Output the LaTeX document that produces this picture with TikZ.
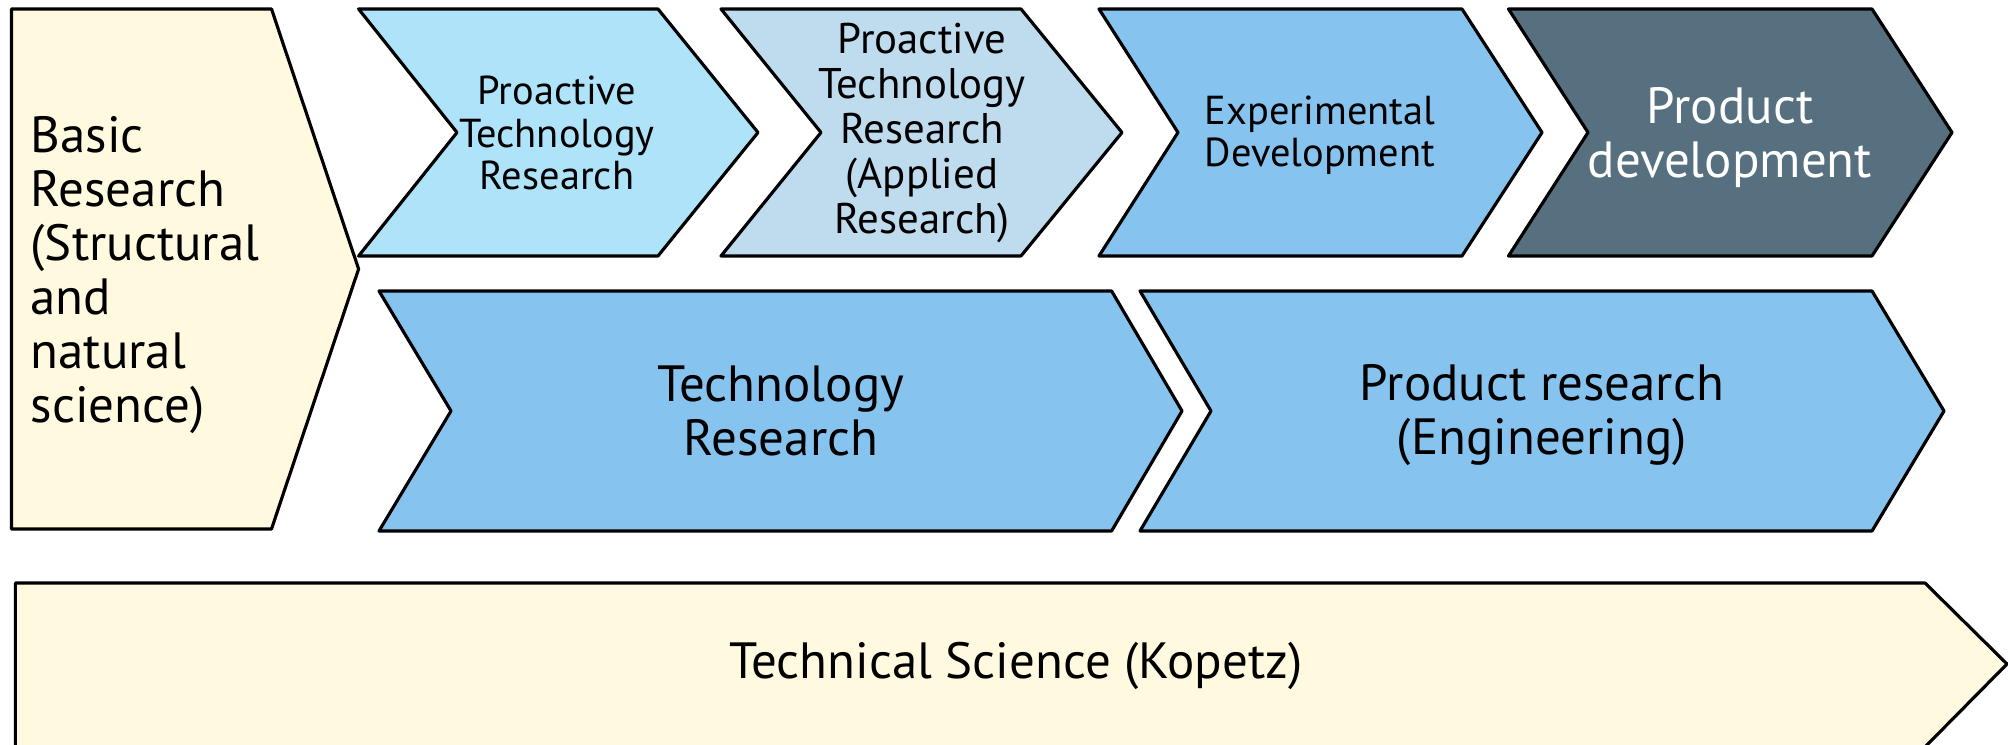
\documentclass[tikz,border=0pt]{standalone}
\usepackage{fontspec}
\setmainfont{PT Sans}
\usetikzlibrary{positioning}
\definecolor{basicfill}{HTML}{FFFADF}
\definecolor{proafill}{HTML}{AEE3FA}
\definecolor{appfill}{HTML}{BFDBEE}
\definecolor{midfill}{HTML}{86C3EF}
\definecolor{darkfill}{HTML}{56707F}
\tikzset{
    stage/.style={
        draw=black, line width=0.9pt, line join=round
    },
    smalltext/.style={
        align=center, inner sep=0pt,
        font=\fontsize{11.5}{12}\selectfont
    },
    midtext/.style={
        align=center, inner sep=0pt,
        font=\fontsize{12.2}{12.8}\selectfont
    },
    bigtext/.style={
        align=center, inner sep=0pt,
        font=\fontsize{14.5}{15.4}\selectfont
    }
}

\begin{document}
\begin{tikzpicture}
\useasboundingbox (0,0) rectangle (20.08,7.45);

% Basic research block
\draw[stage, fill=basicfill] (0.115,7.36) -- (2.715,7.36) -- (3.586,4.76) -- (2.715,2.16) -- (0.115,2.16) -- cycle;
\node[bigtext, align=left, anchor=west] (basic) at (0.30,4.70) {Basic\\Research\\(Structural\\and\\natural\\science)};

% Top row: four stages
\draw[stage, fill=proafill] (3.586,7.36) -- (6.58,7.36) -- (7.58,6.125) -- (6.58,4.89) -- (3.586,4.89) -- (4.57,6.125) -- cycle;
\draw[stage, fill=appfill] (7.21,7.36) -- (10.21,7.36) -- (11.22,6.125) -- (10.21,4.89) -- (7.21,4.89) -- (8.21,6.125) -- cycle;
\draw[stage, fill=midfill] (10.99,7.36) -- (14.62,7.36) -- (15.42,6.125) -- (14.62,4.89) -- (10.99,4.89) -- (11.78,6.125) -- cycle;
\draw[stage, fill=darkfill] (15.085,7.36) -- (18.72,7.36) -- (19.52,6.125) -- (18.72,4.89) -- (15.085,4.89) -- (15.88,6.125) -- cycle;

\node[smalltext] (pro) at (5.57,6.12) {Proactive\\Technology\\Research};
\node[midtext] (proapp) at (9.22,6.12) {Proactive\\Technology\\Research\\(Applied\\Research)};
\node[smalltext] (expdev) at (13.20,6.10) {Experimental\\Development};
\node[bigtext, text=white] (proddev) at (17.30,6.07) {Product\\development};

% Second row
\draw[stage, fill=midfill] (3.79,4.54) -- (11.116,4.54) -- (11.82,3.34) -- (11.116,2.14) -- (3.79,2.14) -- (4.51,3.34) -- cycle;
\draw[stage, fill=midfill] (11.40,4.54) -- (18.72,4.54) -- (19.44,3.34) -- (18.72,2.14) -- (11.40,2.14) -- (12.11,3.34) -- cycle;

\node[bigtext] (techres) at (7.81,3.34) {Technology\\Research};
\node[bigtext] (prodres) at (15.42,3.30) {Product research\\(Engineering)};

% Bottom arrow
\draw[stage, fill=basicfill] (0.154,1.62) -- (19.25,1.62) -- (20.07,0.81) -- (19.25,-0.02) -- (0.154,-0.02) -- cycle;
\node[bigtext] (techsci) at (10.16,0.79) {Technical Science (Kopetz)};

\end{tikzpicture}
\end{document}
